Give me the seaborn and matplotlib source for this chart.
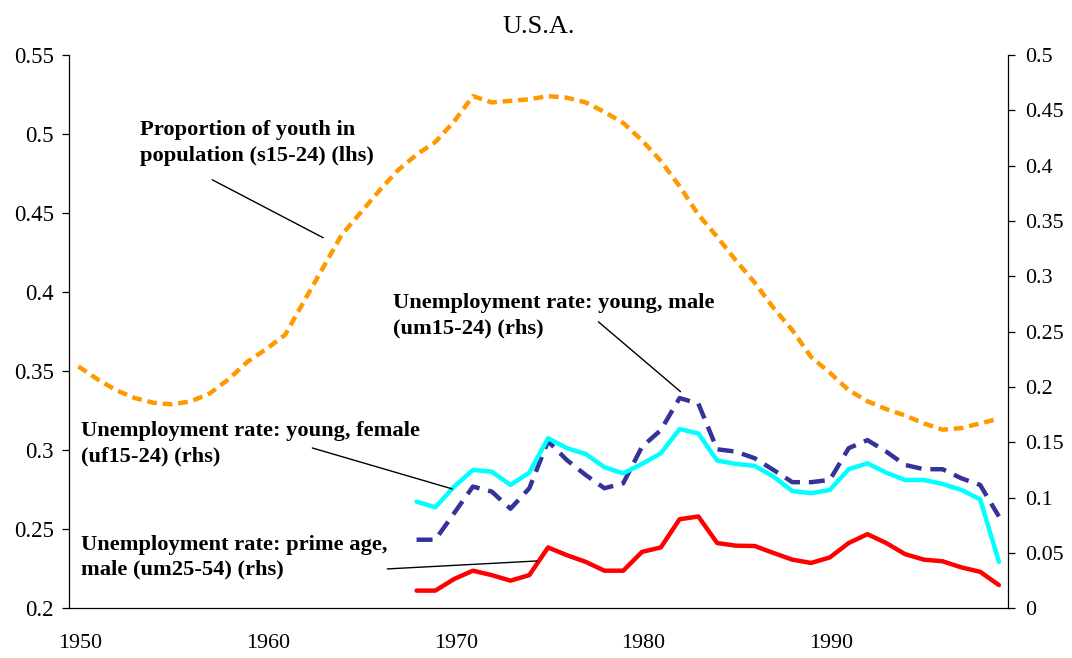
import numpy as np
import pandas as pd
import matplotlib
matplotlib.use("Agg")
import matplotlib.pyplot as plt
import matplotlib.transforms as mtransforms
import seaborn as sns

# share of 15-24 year olds in population (left axis), 1950-1999
pop_years = list(range(1950, 2000))
youth_share = [0.353, 0.345, 0.338, 0.333, 0.330, 0.329, 0.331, 0.336, 0.345, 0.356,
               0.364, 0.373, 0.394, 0.415, 0.436, 0.450, 0.464, 0.477, 0.487, 0.495,
               0.508, 0.524, 0.520, 0.521, 0.522, 0.524, 0.523, 0.520, 0.514, 0.507,
               0.496, 0.483, 0.467, 0.449, 0.435, 0.420, 0.406, 0.390, 0.376, 0.359,
               0.349, 0.338, 0.331, 0.326, 0.322, 0.317, 0.313, 0.314, 0.317, 0.320]

# unemployment rates (right axis), 1968-1999
u_years = list(range(1968, 2000))
u_young_male = [0.062, 0.062, 0.086, 0.110, 0.1055, 0.090, 0.1085, 0.151, 0.134, 0.1205,
                0.1085, 0.113, 0.146, 0.161, 0.190, 0.185, 0.1437, 0.1416, 0.1356, 0.125,
                0.114, 0.114, 0.116, 0.1447, 0.152, 0.1416, 0.1296, 0.1257, 0.1257, 0.1175,
                0.1115, 0.083]
u_young_female = [0.0964, 0.0913, 0.110, 0.125, 0.1235, 0.1115, 0.1226, 0.1537, 0.1447, 0.1395,
                  0.1275, 0.122, 0.1305, 0.140, 0.162, 0.158, 0.1335, 0.1305, 0.1287, 0.119,
                  0.106, 0.104, 0.107, 0.1257, 0.131, 0.1226, 0.116, 0.116, 0.1124, 0.107,
                  0.0985, 0.042]
u_prime_male = [0.016, 0.016, 0.0265, 0.034, 0.030, 0.025, 0.030, 0.055, 0.048, 0.042,
                0.034, 0.034, 0.051, 0.055, 0.0805, 0.083, 0.059, 0.0566, 0.0563, 0.050,
                0.044, 0.041, 0.046, 0.059, 0.067, 0.059, 0.049, 0.044, 0.0425, 0.037,
                0.033, 0.021]

left_ticks = [0.2, 0.25, 0.3, 0.35, 0.4, 0.45, 0.5, 0.55]
right_ticks = [0, 0.05, 0.1, 0.15, 0.2, 0.25, 0.3, 0.35, 0.4, 0.45, 0.5]
x_ticks = [1950, 1960, 1970, 1980, 1990]

sns.set_style("white")
plt.rcParams['font.family'] = ['Liberation Serif', 'DejaVu Serif']
plt.rcParams['font.size'] = 16
plt.rcParams['text.color'] = 'black'
plt.rcParams['xtick.color'] = 'black'
plt.rcParams['ytick.color'] = 'black'
plt.rcParams['axes.titlecolor'] = 'black'

pop = pd.DataFrame({'year': np.array(pop_years) + 0.5, 'share': youth_share})
unemp = pd.DataFrame({'year': np.array(u_years) + 0.5, 'um15': u_young_male,
                      'uf15': u_young_female, 'um25': u_prime_male})

fig = plt.figure(figsize=(10.72, 6.58), dpi=100)
ax = fig.add_axes([0.0644, 0.0755, 0.8762, 0.8409])
ax2 = ax.twinx()

sns.lineplot(data=pop, x='year', y='share', ax=ax, color='#FF9900', linewidth=3.2,
             linestyle=(0, (2.2, 1.3)), dash_capstyle='butt', errorbar=None)
sns.lineplot(data=unemp, x='year', y='um15', ax=ax2, color='#333399', linewidth=3.2,
             linestyle=(0, (3.6, 2.0)), dash_capstyle='butt', errorbar=None)
sns.lineplot(data=unemp, x='year', y='uf15', ax=ax2, color='#00FFFF', linewidth=3.2,
             errorbar=None)
sns.lineplot(data=unemp, x='year', y='um25', ax=ax2, color='#FF0000', linewidth=3.2,
             errorbar=None)

ax.set_xlim(1950, 2000)
ax.set_ylim(0.2, 0.55)
ax2.set_ylim(0, 0.5)
ax.set_xticks(x_ticks)
ax.set_xticklabels([str(t) for t in x_ticks])
ax.set_yticks(left_ticks)
ax.set_yticklabels([f"{t:g}" for t in left_ticks])
ax2.set_yticks(right_ticks)
ax2.set_yticklabels([f"{t:g}" for t in right_ticks])
ax.set_xlabel('')
ax.set_ylabel('')
ax2.set_ylabel('')

for a in (ax, ax2):
    a.spines['top'].set_visible(False)
    for s in a.spines.values():
        s.set_color('black')
        s.set_linewidth(0.9)
ax.spines['right'].set_visible(False)
ax2.spines['left'].set_visible(False)
ax2.spines['bottom'].set_visible(False)

ax.tick_params(axis='y', direction='out', length=5, width=0.9, pad=6, labelsize=16.5)
ax.tick_params(axis='x', direction='out', length=5, width=0.9, pad=13.5, labelsize=15.8)
ax2.tick_params(axis='y', direction='out', length=5, width=0.9, pad=7, labelsize=15.8)

# Excel-style category labels sit a little right of the tick
offset = mtransforms.ScaledTranslation(0.11, 0, fig.dpi_scale_trans)
for lbl in ax.get_xticklabels():
    lbl.set_transform(lbl.get_transform() + offset)

ax.set_title('U.S.A.', fontsize=19, pad=16, color='black')

bold = dict(fontsize=16.2, fontweight='bold', va='top', ha='left', linespacing=1.36,
            color='black')
line = dict(arrowstyle='-', color='black', lw=1, shrinkA=0, shrinkB=0)

ax.text(1953.78, 0.5087, 'Proportion of youth in\npopulation (s15-24) (lhs)', **bold)
ax.annotate('', xy=(1963.53, 0.4344), xytext=(1957.62, 0.4711), arrowprops=line)

ax2.text(1967.26, 0.2853, 'Unemployment rate: young, male\n(um15-24) (rhs)', **bold)
ax2.annotate('', xy=(1982.55, 0.1958), xytext=(1978.18, 0.2589), arrowprops=line)

ax2.text(1950.64, 0.1692, 'Unemployment rate: young, female\n(uf15-24) (rhs)', **bold)
ax2.annotate('', xy=(1970.40, 0.1079), xytext=(1962.95, 0.1449), arrowprops=line)

ax2.text(1950.64, 0.0667, 'Unemployment rate: prime age,\nmale (um25-54) (rhs)', **bold)
ax2.annotate('', xy=(1974.93, 0.0428), xytext=(1966.94, 0.0356), arrowprops=line)

fig.savefig('out.png', dpi=100)
